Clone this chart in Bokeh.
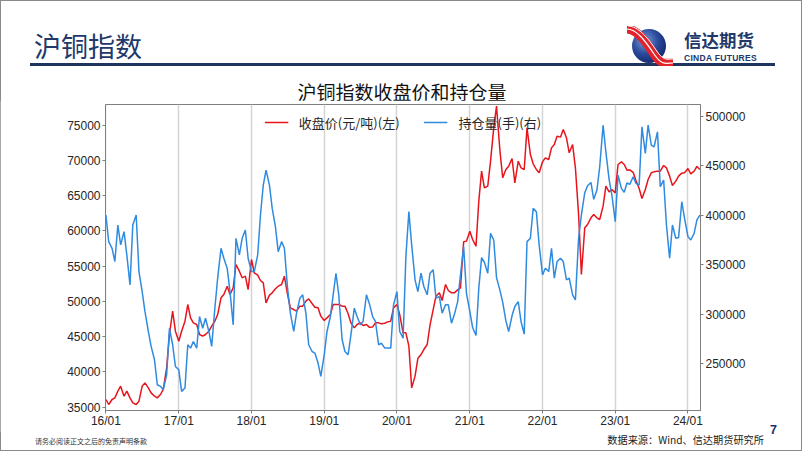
import pandas as pd
from bokeh.plotting import figure
from bokeh.layouts import column, row
from bokeh.models import (Range1d, LinearAxis, FixedTicker, Legend, LegendItem,
                          BasicTickFormatter, Div)
from bokeh.embed import file_html
from bokeh.resources import INLINE

# ---------------- data (semi-monthly readings, 2016-01 .. 2024-03) ----------------
price = [
    # 2016
    36090, 35380, 36090, 36320, 37270, 37980, 36560, 37270, 36320, 35610, 35380, 35850,
    37980, 38450, 37740, 37030, 36560, 36320, 36800, 37510, 40580, 45310, 48620, 45780,
    # 2017
    44360, 45780, 47200, 49560, 47670, 46960, 46730, 45310, 45070, 45310, 45780, 46490,
    47200, 48140, 50510, 50980, 52160, 50980, 51930, 55240, 54290, 53350, 53580, 51690,
    # 2018
    55950, 54050, 53720, 52970, 52640, 49800, 50890, 51220, 51790, 52160, 52400, 53580,
    50980, 49090, 48850, 48620, 49330, 49330, 50040, 50370, 49700, 49180, 49090, 47910,
    # 2019
    47290, 47670, 48140, 49560, 49560, 49560, 49330, 49330, 48240, 46960, 46250, 46730,
    46960, 46580, 46730, 46350, 46390, 46960, 46960, 46820, 46910, 47100, 47200, 49090,
    # 2020
    49560, 48140, 45540, 45540, 43650, 37740, 39400, 41900, 42470, 43180, 43890, 46630,
    48850, 50740, 51220, 50130, 52400, 51550, 51220, 51220, 51640, 51930, 58450, 58550,
    # 2021
    59960, 58780, 57840, 64220, 68480, 66110, 66350, 69890, 74620, 77700, 71410, 67530,
    68710, 69180, 70270, 66820, 69890, 68950, 68710, 74620, 70840, 69520, 68710, 68240,
    # 2022
    69800, 70370, 70130, 71780, 72260, 73440, 73300, 74390, 73200, 71080, 72260, 68950,
    62330, 53820, 60440, 60910, 61860, 62330, 61860, 61620, 63510, 66350, 65540, 65870,
    # 2023
    65400, 69420, 69800, 69420, 68620, 68660, 68290, 67150, 66020, 64600, 65870, 67290,
    68240, 68380, 68480, 68480, 69280, 68950, 67770, 66440, 67060, 67770, 68190, 68240,
    # 2024
    68850, 68100, 68480, 69140, 68710,
]

open_interest = [
    # 2016
    400200, 373300, 366600, 353200, 390100, 370000, 383400, 359900, 329600, 390100, 400200, 343100,
    322900, 302800, 282600, 267500, 254000, 228800, 227200, 223800, 238900, 285900, 269200, 247300,
    # 2017
    243900, 222100, 225500, 269200, 265800, 272500, 265800, 297700, 285900, 296000, 282600, 267500,
    306100, 336400, 366600, 356500, 346400, 322900, 289300, 376700, 359900, 376700, 385100, 356500,
    # 2018
    343100, 343100, 359900, 400200, 430400, 445600, 430400, 406900, 388400, 363200, 373300, 366600,
    326300, 301100, 282600, 301100, 316200, 319600, 301100, 269200, 262400, 260800, 250700, 237200,
    # 2019
    259100, 282600, 297700, 319600, 341400, 319600, 274200, 262400, 259100, 279200, 306100, 297700,
    289300, 292700, 319600, 311200, 297700, 292700, 269200, 270800, 265800, 265800, 265800, 309500,
    # 2020
    322900, 282600, 275900, 358200, 403600, 370000, 334700, 322900, 341400, 328000, 319600, 341400,
    344800, 316200, 317900, 301100, 309500, 309500, 291000, 299400, 312800, 339700, 368300, 321200,
    # 2021
    302800, 286600, 278600, 326300, 357200, 352500, 341400, 381700, 375000, 337000, 324300, 312200,
    293300, 282600, 298700, 307800, 312800, 292700, 279900, 373300, 376700, 406900, 403600, 370000,
    # 2022
    339700, 346400, 343100, 366600, 336400, 353200, 356500, 353200, 334700, 336400, 319600, 314500,
    376700, 400200, 422700, 429800, 433100, 416000, 425400, 448900, 490900, 464000, 436500, 420400,
    # 2023
    393500, 440500, 427100, 423100, 432500, 431100, 438800, 432100, 430400, 489200, 462400, 490900,
    470800, 469100, 484200, 428800, 435500, 390100, 356500, 390100, 376700, 377400, 413600, 396800,
    # 2024
    378400, 375000, 381700, 395200, 400200,
]

series_names = ["收盘价(元/吨)(左)", "持仓量(手)(右)"]
chart_title = "沪铜指数收盘价和持仓量"
page_title = "沪铜指数"
logo_cn = "信达期货"
logo_en = "CINDA FUTURES"
source_note = "数据来源：Wind、信达期货研究所"
disclaimer = "请务必阅读正文之后的免责声明条款"
page_number = "7"

x_tick_dates = ["2016-01-01", "2017-01-01", "2018-01-01", "2019-01-01", "2020-01-01",
                "2021-01-01", "2022-01-01", "2023-01-01", "2024-01-01"]
x_tick_labels = ["16/01", "17/01", "18/01", "19/01", "20/01", "21/01", "22/01", "23/01", "24/01"]
left_ticks = [35000, 40000, 45000, 50000, 55000, 60000, 65000, 70000, 75000]
right_ticks = [250000, 300000, 350000, 400000, 450000, 500000]

dates = pd.date_range("2016-01-01", periods=len(price), freq="SMS")

# ---------------- styling ----------------
RED = "#e8141c"
BLUE = "#2f8be0"
NAVY = "#22386a"
AXIS_GRAY = "#7f7f7f"
CJK = "Noto Sans CJK SC"
HEADER_H = 100
FOOTER_H = 19
FIG_H = 451 - HEADER_H - FOOTER_H
FIG_W = 770
SIDE_W = 802 - FIG_W


def ms(d):
    return pd.Timestamp(d).value / 1e6


tick_ms = [ms(d) for d in x_tick_dates]

p = figure(width=FIG_W, height=FIG_H, x_axis_type="datetime",
           output_backend="svg", toolbar_location=None,
           x_range=Range1d(ms("2016-01-01") - 2 * 86400000, ms("2024-03-04")),
           y_range=Range1d(34530, 77930),
           min_border_left=105, min_border_right=FIG_W - 700,
           min_border_top=4, min_border_bottom=22, margin=(0, 0, 0, 0))
p.extra_y_ranges = {"oi": Range1d(202800, 511800)}
p.background_fill_color = "white"
p.border_fill_color = "white"
p.outline_line_color = AXIS_GRAY
p.outline_line_width = 1

r_price = p.line(dates, price, color=RED, line_width=1.5)
r_oi = p.line(dates, open_interest, y_range_name="oi", color=BLUE, line_width=1.5)

right_axis = LinearAxis(y_range_name="oi")
p.add_layout(right_axis, "right")

p.xaxis.ticker = FixedTicker(ticks=tick_ms)
p.xaxis.major_label_overrides = {t: l for t, l in zip(tick_ms, x_tick_labels)}
p.yaxis[0].ticker = FixedTicker(ticks=left_ticks)
right_axis.ticker = FixedTicker(ticks=right_ticks)
p.yaxis[0].formatter = BasicTickFormatter(use_scientific=False)
right_axis.formatter = BasicTickFormatter(use_scientific=False)

for ax in [p.xaxis[0], p.yaxis[0], right_axis]:
    ax.axis_line_color = AXIS_GRAY
    ax.major_tick_line_color = AXIS_GRAY
    ax.minor_tick_line_color = None
    ax.major_tick_out = 3
    ax.major_tick_in = 0
    ax.major_label_standoff = 2
    ax.major_label_text_font = "Liberation Sans"
    ax.major_label_text_font_size = "12px"
    ax.major_label_text_color = "#262626"
p.xaxis[0].major_label_standoff = 0

p.xgrid.ticker = FixedTicker(ticks=tick_ms)
p.xgrid.grid_line_color = "#d4d4d4"
p.xgrid.grid_line_width = 1.5
p.ygrid.visible = False

legend = Legend(items=[LegendItem(label=series_names[0], renderers=[r_price]),
                       LegendItem(label=series_names[1], renderers=[r_oi])],
                orientation="horizontal", location="top_center",
                border_line_alpha=0, background_fill_alpha=0,
                label_text_font=CJK, label_text_font_size="13px",
                label_text_color="#262626",
                glyph_width=24, label_standoff=11, spacing=24,
                padding=6, margin=2)
p.add_layout(legend)

# ---------------- header / side / footer (HTML) ----------------
logo_svg = (
    '<svg width="50" height="40" viewBox="0 0 50 40" '
    'style="position:absolute;left:624px;top:26px">'
    '<defs><radialGradient id="lg" cx="38%" cy="35%" r="70%">'
    '<stop offset="0" stop-color="#7c9bd8"/><stop offset="0.55" stop-color="#2a4a9c"/>'
    '<stop offset="1" stop-color="#13276b"/></radialGradient></defs>'
    '<circle cx="25" cy="20" r="17" fill="url(#lg)"/>'
    '<path d="M3 3 C 13 3, 22 16, 30 28 S 42 37, 49 37" stroke="#e3232b" '
    'stroke-width="9" fill="none"/>'
    '<path d="M3 3 C 13 3, 22 16, 30 28 S 42 37, 49 37" stroke="#ffffff" '
    'stroke-width="1.2" fill="none"/>'
    '<path d="M4 0 C 14 0, 24 12, 32 24 S 44 33, 49 33" stroke="#ffffff" '
    'stroke-width="1" fill="none"/>'
    '</svg>'
)

SPAN = "position:absolute;display:block;line-height:1;white-space:nowrap;"

header_html = (
    f'<div style="position:relative;width:802px;height:{HEADER_H}px;'
    f'font-family:\'{CJK}\';">'
    f'<span style="{SPAN}left:34px;top:32px;font-size:27px;color:{NAVY}">{page_title}</span>'
    f'<div style="position:absolute;left:30px;top:63px;width:745px;height:3px;'
    f'background:#1f3560;"></div>'
    f'{logo_svg}'
    f'<span style="{SPAN}left:684px;top:31px;font-size:17.5px;font-weight:bold;'
    f'color:{NAVY}">{logo_cn}</span>'
    f'<span style="{SPAN}left:684px;top:54px;font-size:8.5px;'
    f'font-family:\'Liberation Sans\';font-weight:bold;color:{NAVY};'
    f'letter-spacing:0.3px">{logo_en}</span>'
    f'<span style="{SPAN}left:0px;width:804px;text-align:center;top:82px;'
    f'font-size:19px;color:#111111">{chart_title}</span>'
    f'</div>'
)

# page number anchored to the bottom of the strip right of the chart
side_html = (
    f'<div style="position:relative;width:{SIDE_W}px;height:{FIG_H}px;margin:0;padding:0;">'
    f'<span style="{SPAN}left:0px;bottom:-4px;font-size:12.5px;height:12px;'
    f'font-family:\'Liberation Sans\';font-weight:bold;color:#1f2f6f">{page_number}</span>'
    f'</div>'
)

footer_html = (
    f'<div style="position:relative;width:802px;height:{FOOTER_H}px;'
    f'font-family:\'{CJK}\';">'
    f'<span style="{SPAN}left:35px;top:6px;font-size:7px;color:#333333">{disclaimer}</span>'
    f'<span style="{SPAN}right:38px;top:3px;font-size:10.2px;color:#222222">{source_note}</span>'
    f'</div>'
)

header = Div(text=header_html, width=802, height=HEADER_H, margin=(0, 0, 0, 0))
side = Div(text=side_html, width=SIDE_W, height=FIG_H, margin=(0, 0, 0, 0))
footer = Div(text=footer_html, width=802, height=FOOTER_H, margin=(0, 0, 0, 0))

page = column(header, row(p, side, spacing=0, margin=(0, 0, 0, 0)), footer,
              spacing=0, margin=(0, 0, 0, 0),
              styles={"outline": "1.5px solid #8a8a8a", "outline-offset": "-1.5px"})

open("out.html", "w").write(file_html(page, INLINE))
